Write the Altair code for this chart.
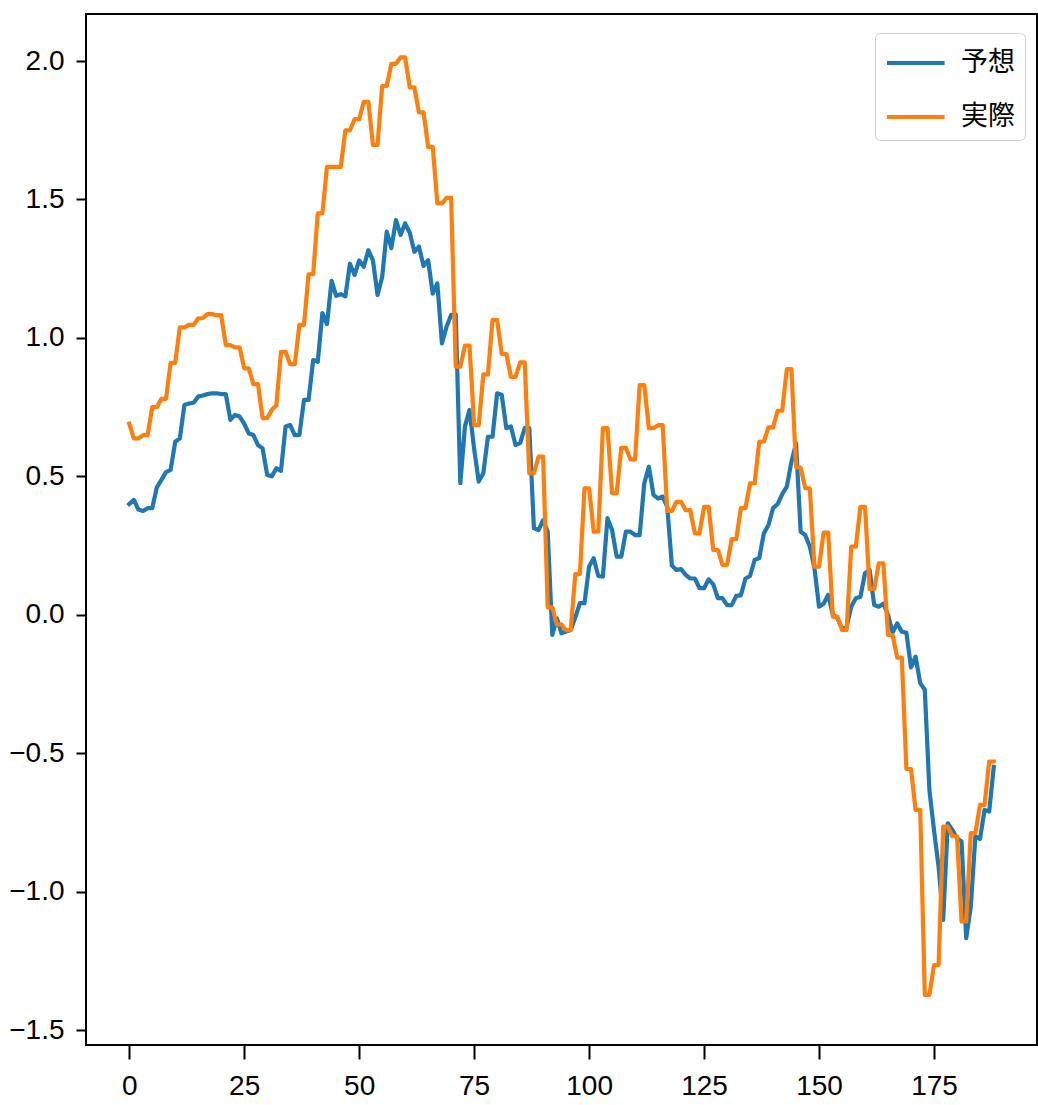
import altair as alt
import pandas as pd

# x positions (time step index)
steps = list(range(189))

# predicted values (予想)
predicted = [
    0.400, 0.415, 0.380, 0.375, 0.385, 0.385, 0.460, 0.487, 0.515, 0.523,
    0.625, 0.637, 0.758, 0.763, 0.766, 0.788, 0.792, 0.797, 0.800, 0.800,
    0.797, 0.797, 0.704, 0.722, 0.716, 0.690, 0.655, 0.649, 0.613, 0.601,
    0.505, 0.500, 0.529, 0.520, 0.680, 0.685, 0.649, 0.649, 0.776, 0.776,
    0.920, 0.914, 1.090, 1.050, 1.206, 1.152, 1.158, 1.150, 1.268, 1.227,
    1.280, 1.257, 1.317, 1.280, 1.155, 1.220, 1.384, 1.324, 1.426, 1.372,
    1.414, 1.380, 1.311, 1.330, 1.260, 1.281, 1.160, 1.197, 0.980, 1.040,
    1.083, 1.085, 0.475, 0.680, 0.740, 0.600, 0.481, 0.511, 0.643, 0.643,
    0.800, 0.795, 0.674, 0.680, 0.613, 0.620, 0.674, 0.674, 0.312, 0.306,
    0.342, 0.300, -0.073, -0.013, -0.067, -0.060, -0.055, -0.010, 0.042, 0.042,
    0.174, 0.204, 0.140, 0.138, 0.349, 0.306, 0.210, 0.210, 0.300, 0.300,
    0.288, 0.288, 0.475, 0.535, 0.433, 0.420, 0.427, 0.390, 0.178, 0.162,
    0.165, 0.144, 0.131, 0.131, 0.096, 0.096, 0.128, 0.110, 0.060, 0.060,
    0.035, 0.035, 0.068, 0.070, 0.131, 0.140, 0.198, 0.205, 0.294, 0.324,
    0.385, 0.400, 0.436, 0.463, 0.553, 0.619, 0.300, 0.288, 0.246, 0.170,
    0.029, 0.040, 0.072, 0.000, -0.013, -0.049, -0.043, 0.029, 0.060, 0.065,
    0.150, 0.162, 0.035, 0.029, 0.040, 0.000, -0.064, -0.031, -0.061, -0.065,
    -0.190, -0.151, -0.247, -0.271, -0.633, -0.777, -0.910, -1.102, -0.753, -0.777,
    -0.807, -0.819, -1.168, -1.054, -0.800, -0.810, -0.705, -0.711, -0.549,
]

# actual values (実際)
actual = [
    0.690, 0.637, 0.637, 0.649, 0.649, 0.750, 0.750, 0.780, 0.780, 0.910,
    0.910, 1.038, 1.038, 1.047, 1.047, 1.071, 1.071, 1.086, 1.086, 1.082,
    1.082, 0.974, 0.974, 0.966, 0.966, 0.890, 0.890, 0.833, 0.833, 0.710,
    0.710, 0.740, 0.757, 0.950, 0.950, 0.905, 0.905, 1.047, 1.047, 1.230,
    1.230, 1.450, 1.450, 1.618, 1.618, 1.618, 1.618, 1.750, 1.750, 1.790,
    1.790, 1.853, 1.853, 1.697, 1.697, 1.910, 1.910, 1.990, 1.990, 2.013,
    2.013, 1.905, 1.905, 1.815, 1.815, 1.690, 1.690, 1.486, 1.486, 1.506,
    1.506, 0.896, 0.896, 0.972, 0.972, 0.685, 0.685, 0.868, 0.868, 1.065,
    1.065, 0.942, 0.942, 0.859, 0.859, 0.912, 0.912, 0.511, 0.511, 0.571,
    0.571, 0.027, 0.027, -0.035, -0.035, -0.056, -0.056, 0.147, 0.147, 0.457,
    0.457, 0.300, 0.300, 0.674, 0.674, 0.439, 0.439, 0.603, 0.603, 0.561,
    0.561, 0.830, 0.830, 0.674, 0.674, 0.685, 0.685, 0.375, 0.375, 0.408,
    0.408, 0.378, 0.378, 0.294, 0.294, 0.390, 0.390, 0.234, 0.234, 0.180,
    0.180, 0.273, 0.273, 0.385, 0.385, 0.475, 0.475, 0.625, 0.625, 0.677,
    0.677, 0.737, 0.737, 0.887, 0.887, 0.532, 0.532, 0.457, 0.457, 0.174,
    0.174, 0.297, 0.297, -0.007, -0.007, -0.055, -0.055, 0.246, 0.246, 0.390,
    0.390, 0.093, 0.093, 0.186, 0.186, -0.073, -0.073, -0.155, -0.155, -0.557,
    -0.557, -0.705, -0.705, -1.373, -1.373, -1.265, -1.265, -0.765, -0.765, -0.800,
    -0.800, -1.108, -1.108, -0.789, -0.789, -0.687, -0.687, -0.530, -0.530,
]

series_names = ["予想", "実際"]
series_colors = ["#1f77b4", "#ff7f0e"]
x_ticks = [0, 25, 50, 75, 100, 125, 150, 175]
y_ticks = [-1.5, -1.0, -0.5, 0.0, 0.5, 1.0, 1.5, 2.0]

pred_df = pd.DataFrame({"step": steps, "value": predicted, "series": series_names[0]})
act_df = pd.DataFrame({"step": steps, "value": actual, "series": series_names[1]})

tick_font = "Liberation Sans, Arial, sans-serif"

x_enc = alt.X(
    "step:Q",
    scale=alt.Scale(domain=[-9.4, 197.4], nice=False, zero=False),
    axis=alt.Axis(values=x_ticks, format="d", title=None, grid=False, domain=False,
                  tickSize=14, tickWidth=2, tickColor="black", labelPadding=13),
)
y_enc = alt.Y(
    "value:Q",
    scale=alt.Scale(domain=[-1.554, 2.170], nice=False, zero=False),
    axis=alt.Axis(values=y_ticks, format=".1f", title=None, grid=False, domain=False,
                  tickSize=10, tickWidth=2, tickColor="black", labelPadding=12),
)
color_enc = alt.Color(
    "series:N",
    scale=alt.Scale(domain=series_names, range=series_colors),
    sort=series_names,
    legend=alt.Legend(title=None),
)

line_style = dict(strokeWidth=4.2, strokeJoin="round", strokeCap="square")

pred_line = alt.Chart(pred_df).mark_line(**line_style).encode(x=x_enc, y=y_enc, color=color_enc)
act_line = alt.Chart(act_df).mark_line(**line_style).encode(x=x_enc, y=y_enc, color=color_enc)

# legend handle: a horizontal stroke drawn to the right of the symbol's centre,
# so the handle is long while the legend rows stay compact
handle_path = "M-1,0L2.2,0"

chart = (
    alt.layer(pred_line, act_line)
    .properties(
        width=951,
        height=1031,
        autosize=alt.AutoSizeParams(type="none"),
        padding={"left": 86, "top": 14, "right": 1, "bottom": 60},
        background="white",
    )
    .configure_view(stroke="black", strokeWidth=2)
    .configure_axis(labelFont=tick_font, labelFontSize=28, labelColor="black")
    .configure_legend(
        orient="none",
        legendX=789,
        legendY=19,
        fillColor="white",
        strokeColor="#d0d0d0",
        cornerRadius=5,
        padding=10,
        symbolType=handle_path,
        symbolSize=1296,
        symbolStrokeWidth=4,
        symbolFillColor="transparent",
        labelFont="Noto Sans CJK JP",
        labelFontSize=27,
        labelColor="black",
        labelOffset=36,
        rowPadding=21,
        labelLimit=200,
    )
)

chart.save("out.html", embed_options={"renderer": "svg", "actions": False})
